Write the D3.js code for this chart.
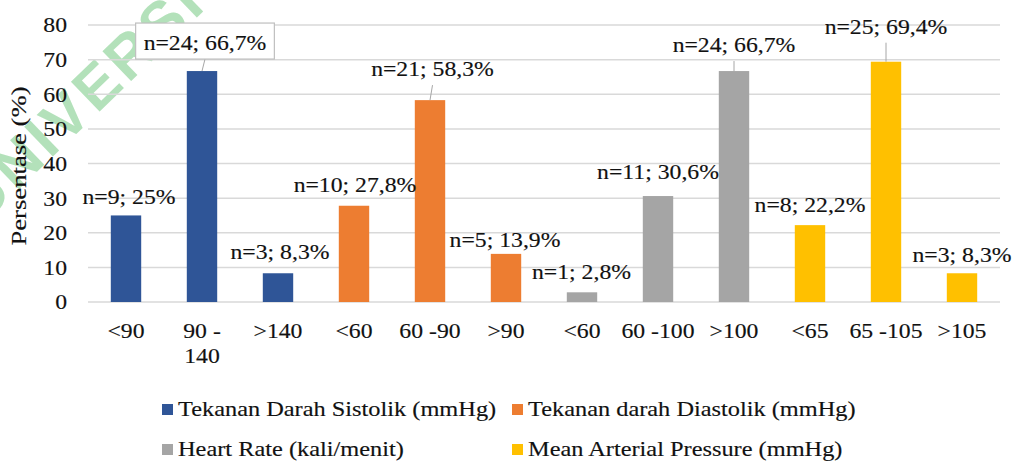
<!DOCTYPE html>
<html>
<head>
<meta charset="utf-8">
<script src="https://cdn.jsdelivr.net/npm/d3@7"></script>
<style>
  html, body { margin: 0; padding: 0; background: #ffffff; }
  svg { display: block; }
  text { font-family: "Liberation Serif", "Times New Roman", Times, serif; fill: #111111; }
  .ink { stroke: #111111; stroke-width: 0.15px; }
</style>
</head>
<body>
<svg id="chart" width="1020" height="461"></svg>
<script>
// ---- data ----
const categories = ["<90", "90 - 140", ">140", "<60", "60 -90", ">90", "<60", "60 -100", ">100", "<65", "65 -105", ">105"];
const seriesNames = [
  "Tekanan Darah Sistolik (mmHg)",
  "Tekanan darah Diastolik (mmHg)",
  "Heart Rate (kali/menit)",
  "Mean Arterial Pressure (mmHg)"
];
const seriesOfCategory = [0, 0, 0, 1, 1, 1, 2, 2, 2, 3, 3, 3];
const counts = [9, 24, 3, 10, 21, 5, 1, 11, 24, 8, 25, 3];
const percentages = [25, 66.7, 8.3, 27.8, 58.3, 13.9, 2.8, 30.6, 66.7, 22.2, 69.4, 8.3];
const yTickValues = [0, 10, 20, 30, 40, 50, 60, 70, 80];
const yAxisTitle = "Persentase (%)";
const watermarkText = "UNIVERSITAS";

// ---- styling / layout ----
const seriesColors = ["#2F5597", "#ED7D31", "#A5A5A5", "#FFC000"];
// per-label placement relative to the top centre of its bar
const labelLayout = [
  { dx: 3, dy: -11 }, { dx: 3, dy: -21, leader: true, boxed: true }, { dx: 2, dy: -14 },
  { dx: 1, dy: -14 }, { dx: 2.5, dy: -24, leader: true }, { dx: -1, dy: -7 },
  { dx: -0.5, dy: -13 }, { dx: 0, dy: -17 }, { dx: 0, dy: -19, leader: true },
  { dx: 0, dy: -13 }, { dx: 0, dy: -28, leader: true }, { dx: 0, dy: -11 }
];
const FONT = 21;      // text size
const SX = 1.13;      // horizontal widening of the serif glyphs
const LEGEND_SX = 1.16;
const plot = { left: 88, right: 1000, top: 25, bottom: 302 };

const svg = d3.select("#chart");
svg.append("rect").attr("width", 1020).attr("height", 461).attr("fill", "#ffffff");

// faint watermark behind the chart
svg.append("text")
  .attr("transform", "translate(-18,225) rotate(-44)")
  .style("font-family", "'Liberation Sans', Arial, sans-serif")
  .style("font-weight", "bold")
  .style("font-size", "60px")
  .style("fill", "#b3e1ba")
  .style("letter-spacing", "4px")
  .text(watermarkText);

const x = d3.scaleBand()
  .domain(d3.range(categories.length))
  .range([plot.left, plot.right])
  .paddingInner(0.6)
  .paddingOuter(0.3);

const y = d3.scaleLinear().domain([0, 80]).range([plot.bottom, plot.top]);

// horizontal gridlines
svg.append("g").selectAll("line")
  .data(yTickValues)
  .join("line")
  .attr("x1", plot.left).attr("x2", plot.right)
  .attr("y1", d => y(d)).attr("y2", d => y(d))
  .attr("stroke", "#d9d9d9").attr("stroke-width", 1.5);

// widened text helper
function wideText(parent, px, py, str, anchor, sx) {
  const g = parent.append("g").attr("transform", `translate(${px},${py}) scale(${sx || SX},1)`);
  return g.append("text")
    .attr("class", "ink")
    .attr("text-anchor", anchor || "middle")
    .style("font-size", FONT + "px")
    .text(str);
}

// y axis
const yAxis = svg.append("g")
  .attr("transform", `translate(${plot.left},0)`)
  .call(d3.axisLeft(y).tickValues(yTickValues).tickSize(0).tickPadding(0));
yAxis.select(".domain").remove();
yAxis.selectAll(".tick text")
  .attr("class", "ink")
  .attr("x", -21 / SX)
  .attr("dy", "0.33em")
  .attr("transform", `scale(${SX},1)`)
  .style("font-size", FONT + "px")
  .style("font-family", "'Liberation Serif', 'Times New Roman', serif")
  .attr("fill", "#111111");

// y axis title
svg.append("g")
  .attr("transform", "translate(26,166) rotate(-90) scale(1.27,1)")
  .append("text")
  .attr("class", "ink")
  .attr("text-anchor", "middle")
  .style("font-size", FONT + "px")
  .text(yAxisTitle);

// x axis labels, wrapped when wider than one band
const xAxis = svg.append("g")
  .attr("transform", `translate(0,${plot.bottom})`)
  .call(d3.axisBottom(x).tickSize(0).tickFormat(i => categories[i]));
xAxis.select(".domain").remove();
xAxis.selectAll(".tick text").each(function (i) {
  const t = d3.select(this);
  t.text(null)
    .attr("class", "ink")
    .attr("y", 36).attr("dy", 0)
    .attr("transform", `scale(${SX},1)`)
    .style("font-size", FONT + "px")
    .style("font-family", "'Liberation Serif', 'Times New Roman', serif")
    .attr("fill", "#111111");
  const words = categories[i].split(" ");
  const maxW = x.step() / SX;
  let line = [];
  let lineNo = 0;
  let tspan = t.append("tspan").attr("x", 0).attr("y", 36);
  words.forEach(w => {
    line.push(w);
    tspan.text(line.join(" "));
    if (tspan.node().getComputedTextLength() > maxW && line.length > 1) {
      line.pop();
      tspan.text(line.join(" "));
      line = [w];
      lineNo += 1;
      tspan = t.append("tspan").attr("x", 0).attr("y", 36 + lineNo * 25).text(w);
    }
  });
});

// bars
svg.append("g").selectAll("rect")
  .data(percentages)
  .join("rect")
  .attr("x", (d, i) => x(i))
  .attr("width", x.bandwidth())
  .attr("y", d => y(d))
  .attr("height", d => y(0) - y(d))
  .attr("fill", (d, i) => seriesColors[seriesOfCategory[i]]);

// data labels
const fmt = v => String(v).replace(".", ",");
const labels = svg.append("g");
percentages.forEach((v, i) => {
  const lay = labelLayout[i];
  const cx = x(i) + x.bandwidth() / 2;
  const lx = cx + lay.dx;
  const ly = y(v) + lay.dy;
  const str = `n=${counts[i]}; ${fmt(v)}%`;
  if (lay.leader) {
    labels.append("line")
      .attr("x1", lx).attr("y1", ly + 9)
      .attr("x2", cx).attr("y2", y(v))
      .attr("stroke", "#a6a6a6").attr("stroke-width", 1);
  }
  if (lay.boxed) {
    const holder = labels.append("g");
    const t = wideText(labels, lx, ly, str, "middle");
    const w = t.node().getComputedTextLength() * SX;
    holder.append("rect")
      .attr("x", lx - w / 2 - 8).attr("y", ly - 27)
      .attr("width", w + 16).attr("height", 36)
      .attr("fill", "#ffffff").attr("stroke", "#bfbfbf").attr("stroke-width", 1.2);
  } else {
    wideText(labels, lx, ly, str, "middle");
  }
});

// legend, two columns by two rows
const legendPos = [[162, 416], [512, 416], [162, 456], [512, 456]];
const legend = svg.append("g");
seriesNames.forEach((name, s) => {
  const [lx, ly] = legendPos[s];
  legend.append("rect")
    .attr("x", lx).attr("y", ly - 12)
    .attr("width", 11).attr("height", 11)
    .attr("fill", seriesColors[s]);
  wideText(legend, lx + 16, ly, name, "start", LEGEND_SX);
});
</script>
</body>
</html>
